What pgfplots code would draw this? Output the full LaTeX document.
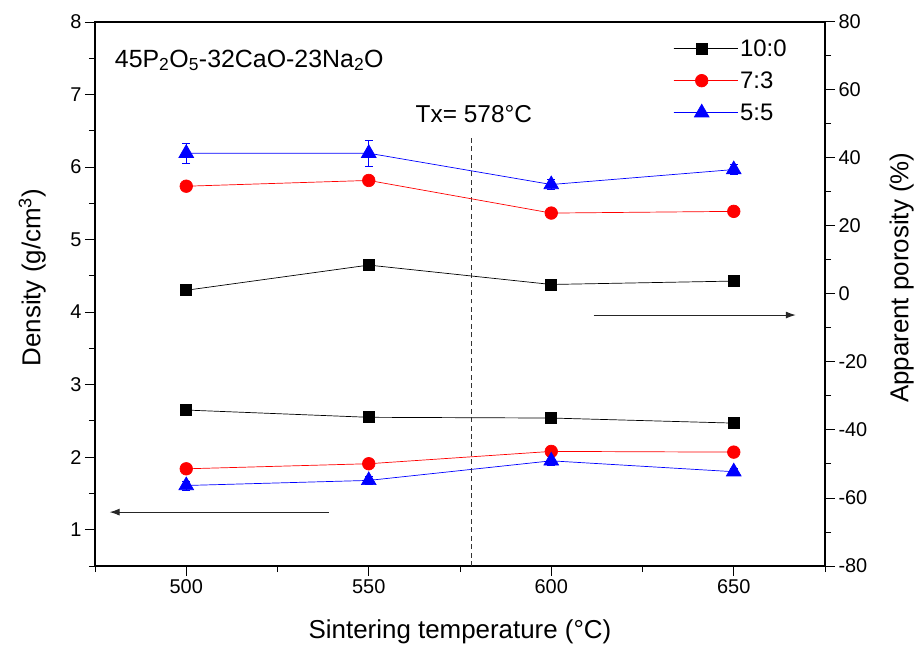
\documentclass[border=0pt]{standalone}
\usepackage{fontspec}
\setmainfont{Liberation Sans}
\usepackage{pgfplots}
\pgfplotsset{compat=1.18}
\usetikzlibrary{arrows.meta}
\begin{document}
\begin{tikzpicture}
\pgfplotsset{
  s10/.style={black, line width=0.7pt, mark=square*, mark size=5.5pt, mark options={solid}},
  s73/.style={red, line width=0.7pt, mark=*, mark size=6.3pt, mark options={solid}},
  s55/.style={blue, line width=0.7pt, mark=triangle*, mark size=8.5pt, mark options={solid}},
  eb/.style={error bars/.cd, y dir=both, y explicit, error bar style={line width=0.6pt}, error mark options={rotate=90, mark size=4pt, line width=0.6pt}},
  common/.style={scale only axis, width=730bp, height=544bp, xmin=475, xmax=675,
    /pgf/number format/assume math mode=true,
    tick label style={font=\fontsize{20}{24}\selectfont},
    axis line style={line width=1.1pt},
    major tick length=10bp, minor tick length=6bp,
    every tick/.style={black, line width=1pt}},
}
\begin{axis}[common, ymin=0.5, ymax=8, ytick={1,...,8}, minor ytick={0.5,1.5,...,7.5},
  xtick={500,550,600,650}, minor xtick={475,525,575,625,675},
  xtick pos=bottom, ytick pos=left, tick align=outside,
  xlabel={Sintering temperature (°C)}, ylabel={Density (g/cm\textsuperscript{3})},
  every axis x label/.style={at={(axis description cs:0.5,-0.121)}, anchor=center, font=\fontsize{26}{30}\selectfont},
  every axis y label/.style={at={(axis description cs:-0.086,0.53)}, rotate=90, anchor=center, font=\fontsize{26}{30}\selectfont}]
\addplot[s10] coordinates {(500,2.65) (550,2.55) (600,2.54) (650,2.47)};
\addplot[s73] coordinates {(500,1.84) (550,1.91) (600,2.08) (650,2.07)};
\addplot[s55, eb] coordinates {(500,1.61) +- (0,0.06) (550,1.68) +- (0,0.06) (600,1.95) +- (0,0.06) (650,1.80) +- (0,0.05)};
\draw[gray!40!black, line width=0.8pt, dash pattern=on 5pt off 3.5pt] (axis cs:578,0.5) -- (axis cs:578,6.43);
\node[anchor=base, font=\fontsize{24.5}{28}\selectfont] at (axis cs:578.8,6.62) {Tx= 578°C};
\node[anchor=base west, inner sep=0pt, font=\fontsize{25}{29}\selectfont] at (axis description cs:0.027,0.917) {45P\textsubscript{2}O\textsubscript{5}-32CaO-23Na\textsubscript{2}O};
\draw[-{Latex[length=10bp,width=7bp]}, line width=1pt, black!85] (axis cs:539,1.243) -- (axis cs:479,1.243);
\draw[-{Latex[length=10bp,width=7bp]}, line width=1pt, black!85] (axis cs:611.6,3.96) -- (axis cs:667,3.96);
\end{axis}
\begin{axis}[common, ymin=-80, ymax=80, ytick={-80,-60,...,80}, minor ytick={-70,-50,...,70},
  axis y line*=right, axis x line=none, tick align=outside,
  ylabel={Apparent porosity (\%)},
  every axis y label/.style={at={(axis description cs:1.105,0.53)}, rotate=90, anchor=center, font=\fontsize{26}{30}\selectfont},
  legend style={draw=none, fill=none, at={(0.792,0.972)}, anchor=north west, font=\fontsize{24}{28}\selectfont, row sep=10bp, inner sep=0pt},
  legend cell align=left,
  legend image code/.code={\draw[mark repeat=2,mark phase=2] plot coordinates {(0bp,0bp) (28bp,0bp) (57bp,0bp)}; \path (0bp,0bp) -- (64bp,0bp);}]
\addplot[s10] coordinates {(500,1.1) (550,8.5) (600,2.8) (650,3.8)};
\addlegendentry{10:0}
\addplot[s73] coordinates {(500,31.7) (550,33.4) (600,23.8) (650,24.3)};
\addlegendentry{7:3}
\addplot[s55, eb] coordinates {(500,41.4) +- (0,2.9) (550,41.4) +- (0,3.9) (600,32.2) +- (0,1.5) (650,36.6) +- (0,1.5)};
\addlegendentry{5:5}
\end{axis}
\path (-95bp,-84bp) rectangle (825bp,566bp);
\end{tikzpicture}
\end{document}
